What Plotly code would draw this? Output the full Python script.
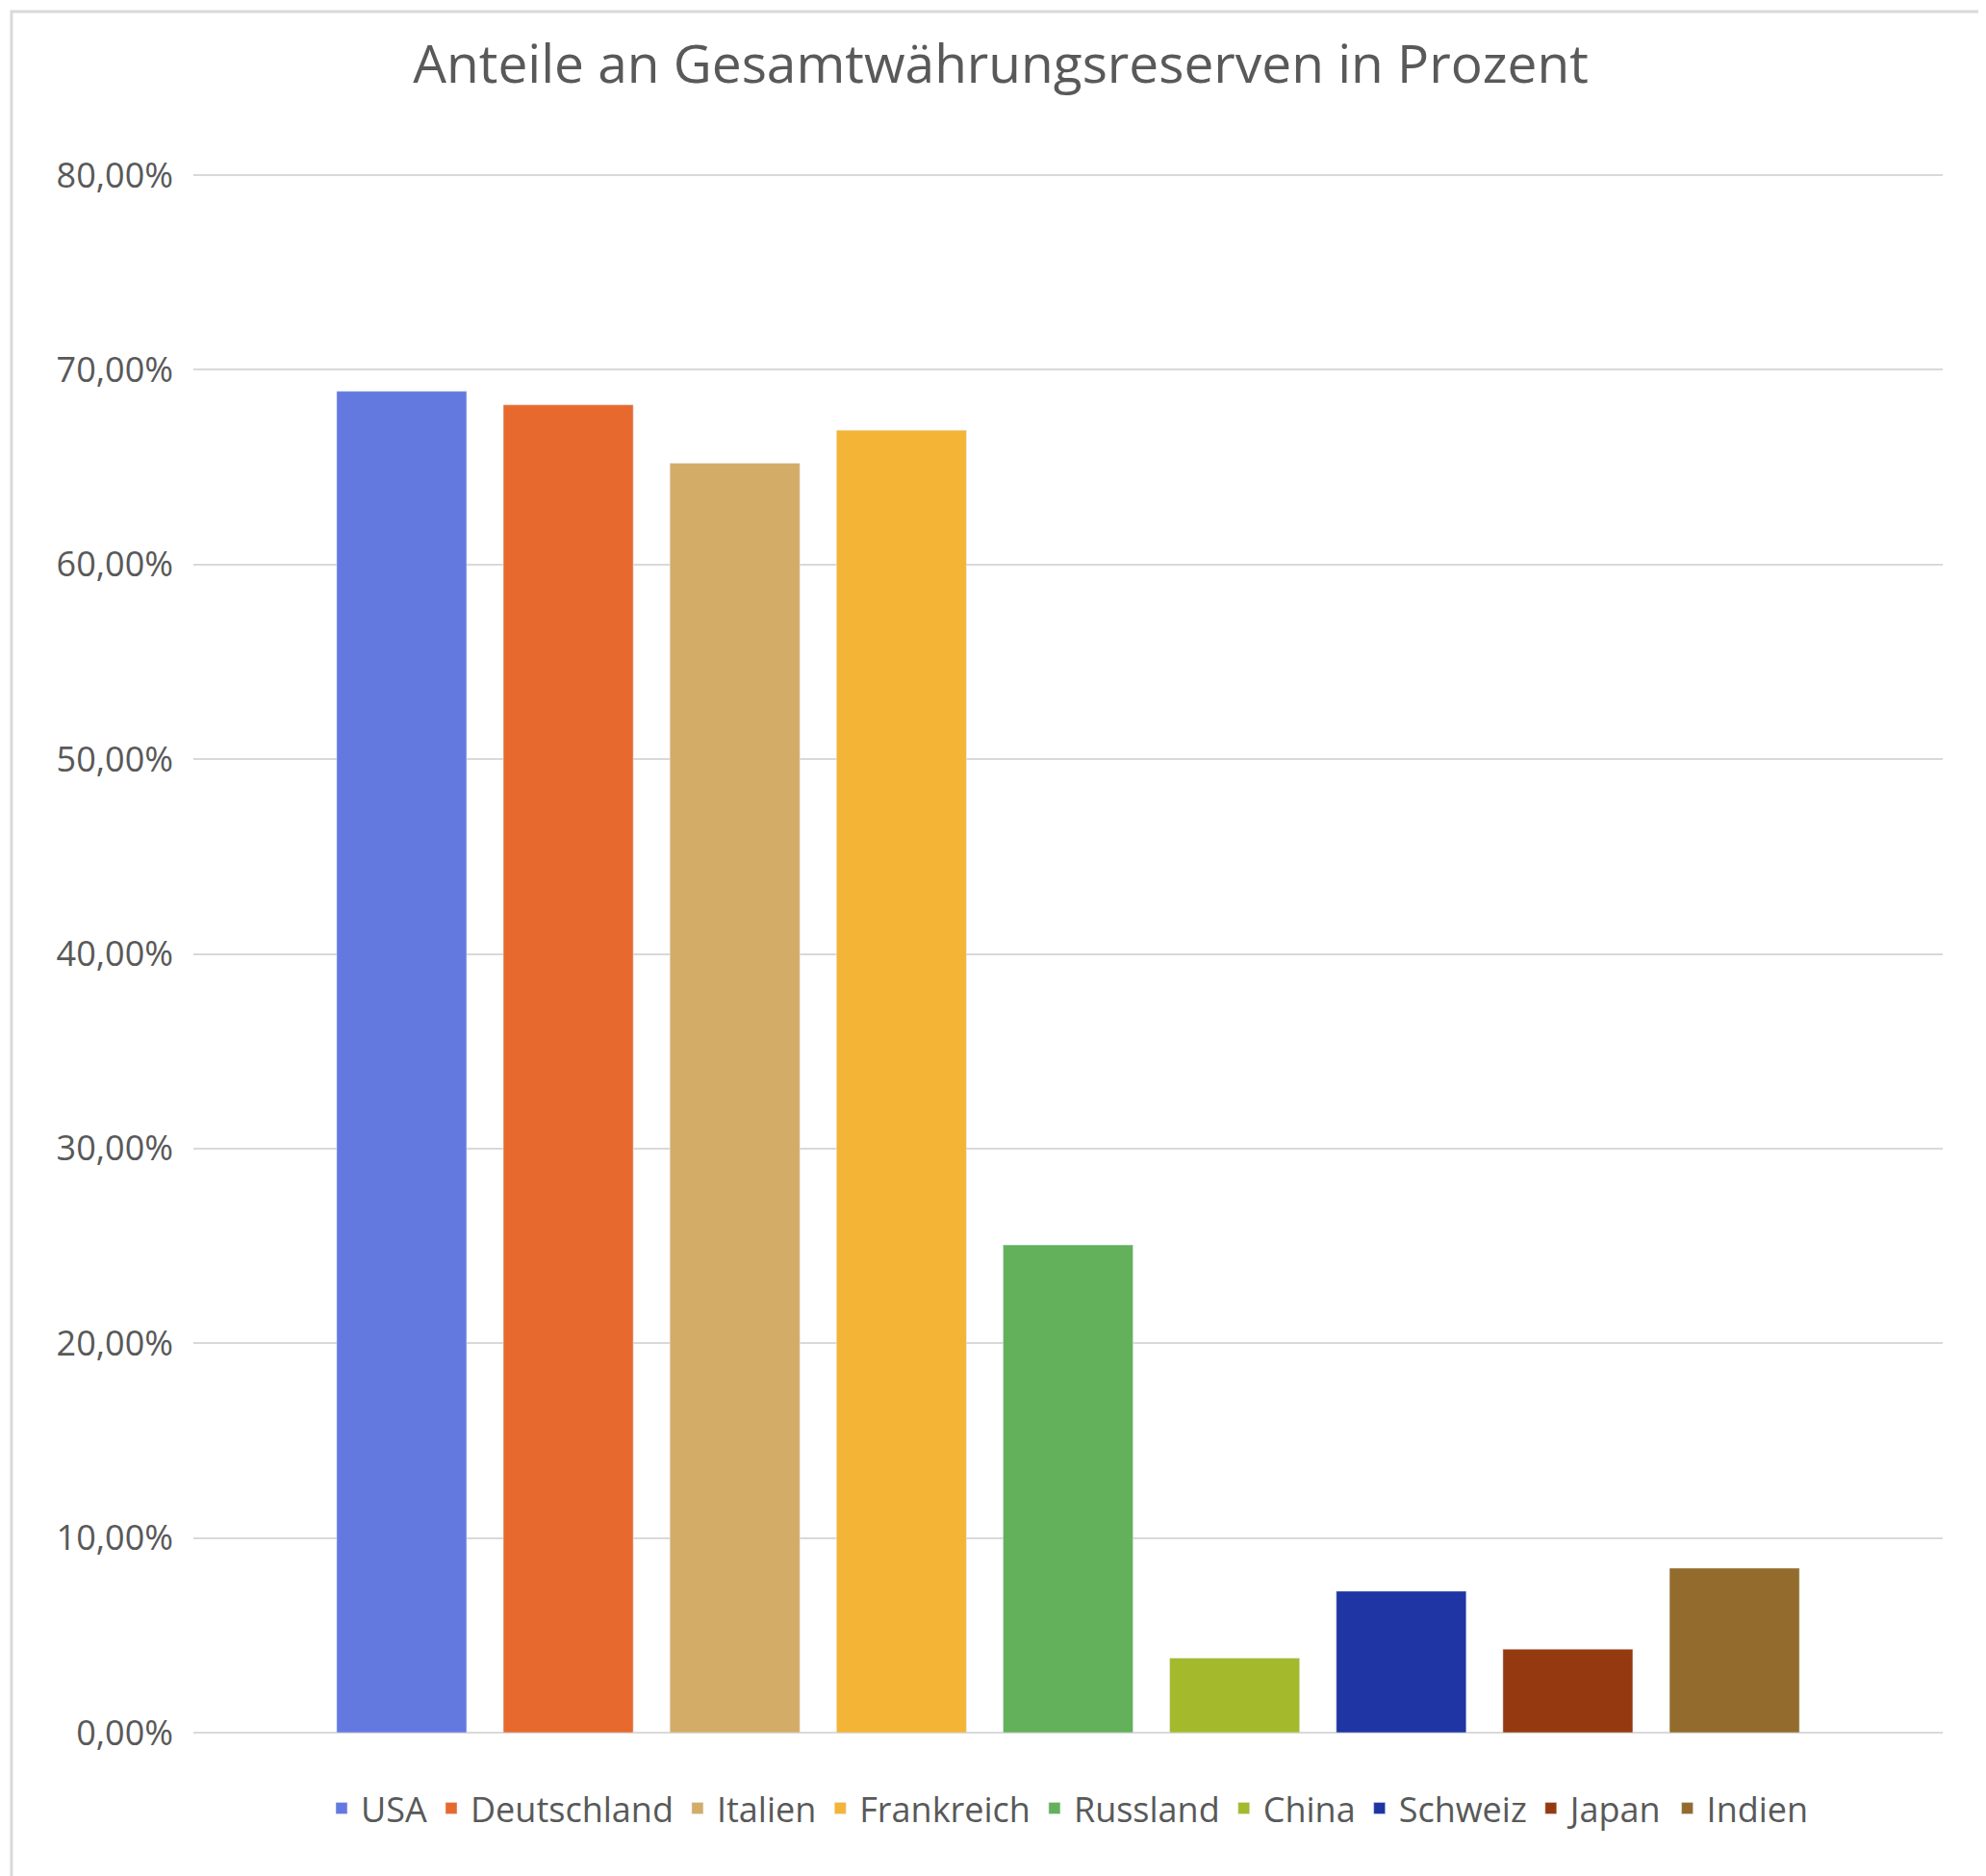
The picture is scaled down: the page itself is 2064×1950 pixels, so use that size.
import plotly.graph_objects as go

countries = ["USA", "Deutschland", "Italien", "Frankreich", "Russland", "China", "Schweiz", "Japan", "Indien"]
values = [68.9, 68.2, 65.2, 66.9, 25.05, 3.83, 7.27, 4.29, 8.45]
colors = ["#6479E0", "#E8692D", "#D3AC67", "#F4B436", "#63B15A", "#A5B92D", "#1F35A3", "#953A10", "#936C2D"]
yticks = [0, 10, 20, 30, 40, 50, 60, 70, 80]

fig = go.Figure()
for c, v, col in zip(countries, values, colors):
    fig.add_trace(go.Bar(x=[c], y=[v / 100], name=c, marker_color=col, width=0.78))

fig.update_layout(
    width=2064, height=1950,
    paper_bgcolor="white", plot_bgcolor="white",
    separators=",.",
    barmode="overlay",
    font=dict(family="Open Sans, Liberation Sans", color="#595959", size=36),
    title=dict(text="Anteile an Gesamtwährungsreserven in Prozent", x=0.5, xanchor="center",
               y=0.97, yanchor="middle", font=dict(size=55, color="#595959")),
    margin=dict(l=193, r=53, t=171, b=157),
    showlegend=True,
    legend=dict(orientation="h", x=0.5, xanchor="center", y=-0.03, yanchor="top",
                font=dict(size=36, color="#595959"), itemwidth=30, traceorder="normal"),
    xaxis=dict(showticklabels=False, showline=False, showgrid=False, categoryorder="array",
               categoryarray=countries, range=[-1.25, 9.25]),
    yaxis=dict(range=[0, 0.8015], tickvals=[t / 100 for t in yticks], tickformat=".2%",
               gridcolor="#D9D9D9", gridwidth=2, zeroline=True, zerolinecolor="#D9D9D9",
               zerolinewidth=2, ticks="", tickfont=dict(size=36, color="#595959")),
    shapes=[dict(type="rect", xref="paper", yref="paper", x0=-0.104, x1=1.027, y0=-0.095, y1=1.103,
                 line=dict(color="#D9D9D9", width=3))],
)
fig.update_yaxes(ticklabelstandoff=20)
fig.write_html("out.html")
